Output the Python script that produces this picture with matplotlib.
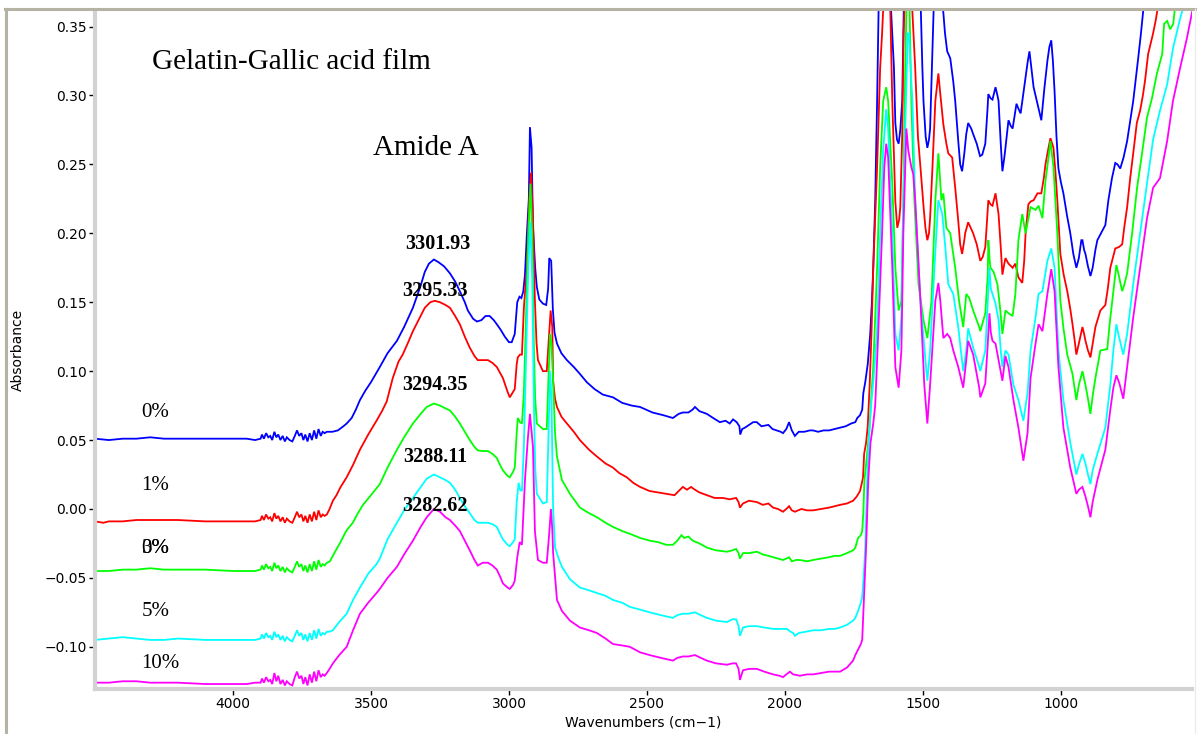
import matplotlib
matplotlib.use("Agg")
import matplotlib.pyplot as plt
from matplotlib.lines import Line2D
from matplotlib.ticker import MultipleLocator, FixedLocator

# ---------------- data (wavenumber cm-1, absorbance) ----------------
spec_0 = [
    (4500,0.051),(4450,0.050),(4400,0.051),(4350,0.051),(4300,0.052),(4250,0.051),(4200,0.051),(4100,0.051),
    (4000,0.051),(3950,0.051),(3920,0.050),(3900,0.051),
    (3895,0.054),(3888,0.051),(3880,0.055),(3872,0.052),(3865,0.053),(3858,0.050),(3850,0.056),(3843,0.052),
    (3836,0.054),(3828,0.050),(3820,0.053),(3812,0.049),(3805,0.052),(3795,0.050),(3785,0.049),(3776,0.053),
    (3768,0.057),(3760,0.053),(3752,0.055),(3745,0.050),(3738,0.054),(3730,0.049),(3722,0.055),(3714,0.050),
    (3706,0.057),(3698,0.051),(3690,0.058),(3682,0.053),(3675,0.056),(3668,0.055),(3660,0.056),
    (3640,0.056),(3620,0.057),(3600,0.060),(3588,0.062),(3570,0.066),(3555,0.072),(3540,0.079),(3520,0.086),
    (3500,0.092),(3468,0.103),(3440,0.113),(3406,0.122),(3380,0.132),(3348,0.146),(3320,0.162),(3305,0.172),
    (3290,0.178),(3272,0.181),(3255,0.179),(3235,0.176),(3214,0.171),(3195,0.165),(3178,0.158),(3160,0.150),
    (3149,0.144),(3130,0.138),(3116,0.136),(3100,0.137),(3085,0.140),(3070,0.140),(3055,0.137),(3044,0.134),
    (3030,0.130),(3015,0.125),(3000,0.121),(2990,0.121),(2979,0.127),(2970,0.150),(2962,0.154),(2955,0.153),
    (2948,0.158),(2942,0.170),(2935,0.200),(2928,0.225),(2924,0.277),(2918,0.262),(2913,0.205),(2905,0.175),
    (2899,0.161),(2890,0.152),(2877,0.149),(2865,0.148),(2858,0.160),(2854,0.182),(2847,0.180),(2841,0.145),
    (2835,0.128),(2826,0.120),(2810,0.113),(2790,0.108),(2765,0.103),(2743,0.098),(2718,0.092),(2690,0.087),
    (2660,0.083),(2623,0.081),(2590,0.077),(2555,0.075),(2525,0.074),(2480,0.070),(2440,0.068),(2406,0.066),
    (2385,0.069),(2370,0.070),(2350,0.070),(2335,0.072),(2326,0.074),(2310,0.071),(2283,0.069),(2260,0.066),
    (2236,0.063),(2215,0.064),(2200,0.062),(2188,0.065),(2175,0.063),(2165,0.060),(2162,0.054),(2155,0.058),
    (2145,0.059),(2130,0.061),(2115,0.063),(2102,0.063),(2085,0.060),(2060,0.061),(2045,0.058),(2030,0.057),
    (2015,0.056),(2007,0.055),(1995,0.058),(1985,0.063),(1975,0.057),(1964,0.053),(1950,0.056),(1930,0.056),
    (1910,0.057),(1898,0.057),(1880,0.056),(1860,0.057),(1840,0.057),(1820,0.058),(1800,0.059),(1780,0.060),
    (1760,0.062),(1745,0.063),(1738,0.066),(1728,0.068),(1720,0.072),(1716,0.084),(1709,0.092),(1700,0.105),
    (1691,0.127),(1685,0.150),(1680,0.175),(1673,0.223),(1666,0.296),(1660,0.370),(1645,0.400),(1620,0.380),
    (1605,0.320),(1600,0.280),(1594,0.268),(1588,0.265),(1582,0.275),(1575,0.296),(1568,0.380),(1540,0.420),
    (1510,0.380),(1502,0.320),(1498,0.296),(1490,0.270),(1484,0.262),(1478,0.268),(1474,0.276),(1466,0.330),
    (1460,0.370),(1445,0.390),(1430,0.370),(1420,0.345),(1412,0.332),(1401,0.327),(1390,0.310),(1383,0.296),
    (1372,0.267),(1365,0.250),(1358,0.245),(1350,0.258),(1343,0.272),(1336,0.280),(1325,0.276),(1318,0.272),
    (1305,0.265),(1293,0.256),(1285,0.257),(1274,0.265),(1266,0.290),(1263,0.301),(1255,0.298),(1248,0.297),
    (1242,0.302),(1237,0.306),(1230,0.300),(1226,0.296),(1218,0.265),(1212,0.245),(1205,0.255),(1201,0.262),
    (1190,0.282),(1182,0.278),(1175,0.276),(1168,0.285),(1161,0.294),(1153,0.290),(1146,0.287),(1137,0.300),
    (1128,0.313),(1120,0.325),(1114,0.332),(1106,0.318),(1099,0.306),(1085,0.294),(1078,0.288),(1071,0.282),
    (1060,0.305),(1049,0.325),(1042,0.335),(1035,0.340),(1029,0.325),(1023,0.303),(1016,0.270),(1009,0.247),
    (1000,0.237),(991,0.229),(978,0.213),(966,0.200),(955,0.185),(944,0.175),(935,0.182),(926,0.195),
    (922,0.195),(916,0.188),(911,0.185),(902,0.176),(893,0.169),(885,0.175),(875,0.188),(868,0.195),
    (855,0.200),(839,0.206),(828,0.224),(815,0.240),(803,0.251),(795,0.250),(785,0.247),(773,0.255),
    (760,0.267),(750,0.280),(738,0.296),(728,0.313),(720,0.327),(710,0.345),(700,0.365),(690,0.385),
]

spec_1 = [
    (4500,-0.009),(4470,-0.010),(4450,-0.009),(4400,-0.009),(4350,-0.008),(4300,-0.008),(4250,-0.008),(4200,-0.008),
    (4100,-0.009),(4000,-0.009),(3950,-0.009),(3920,-0.009),(3900,-0.008),
    (3895,-0.005),(3888,-0.008),(3880,-0.004),(3872,-0.007),(3865,-0.006),(3858,-0.009),(3850,-0.003),(3843,-0.007),
    (3836,-0.005),(3828,-0.009),(3820,-0.006),(3812,-0.010),(3805,-0.007),(3795,-0.009),(3785,-0.010),(3776,-0.006),
    (3768,-0.002),(3760,-0.006),(3752,-0.004),(3745,-0.009),(3738,-0.005),(3730,-0.010),(3722,-0.004),(3714,-0.009),
    (3706,-0.002),(3698,-0.008),(3690,-0.001),(3682,-0.006),(3675,-0.004),(3668,-0.005),
    (3660,-0.004),(3650,0.000),(3638,0.006),(3625,0.010),(3610,0.016),(3588,0.023),(3565,0.032),(3540,0.043),
    (3510,0.054),(3480,0.064),(3460,0.071),(3443,0.078),(3421,0.095),(3400,0.107),(3385,0.112),(3365,0.121),
    (3348,0.129),(3325,0.138),(3305,0.146),(3285,0.150),(3269,0.151),(3250,0.150),(3230,0.148),(3214,0.146),
    (3195,0.140),(3178,0.134),(3160,0.125),(3142,0.117),(3125,0.111),(3113,0.108),(3095,0.108),(3076,0.108),
    (3060,0.106),(3044,0.103),(3030,0.098),(3022,0.095),(3005,0.085),(2997,0.081),(2985,0.085),(2979,0.087),
    (2972,0.105),(2968,0.110),(2960,0.112),(2953,0.112),(2946,0.146),(2935,0.175),(2927,0.224),(2920,0.244),
    (2913,0.211),(2906,0.151),(2900,0.120),(2895,0.108),(2877,0.100),(2863,0.100),(2855,0.125),(2849,0.144),
    (2843,0.132),(2840,0.093),(2833,0.080),(2826,0.074),(2810,0.067),(2790,0.062),(2765,0.056),(2743,0.050),
    (2710,0.043),(2681,0.038),(2650,0.033),(2623,0.030),(2600,0.026),(2573,0.023),(2550,0.019),(2525,0.016),
    (2490,0.013),(2460,0.012),(2428,0.011),(2400,0.010),(2385,0.013),(2370,0.016),(2355,0.014),(2340,0.016),
    (2334,0.015),(2310,0.012),(2283,0.010),(2255,0.008),(2225,0.008),(2200,0.007),(2177,0.008),(2168,0.005),
    (2163,0.001),(2152,0.004),(2130,0.006),(2102,0.005),(2080,0.003),(2060,0.004),(2043,0.001),(2025,0.000),
    (2007,-0.002),(1995,0.000),(1985,0.002),(1975,-0.001),(1964,-0.002),(1940,0.000),(1920,-0.001),(1898,-0.001),
    (1870,0.000),(1840,0.001),(1820,0.002),(1800,0.003),(1775,0.004),(1753,0.006),(1740,0.009),(1728,0.013),
    (1720,0.020),(1717,0.023),(1713,0.040),(1706,0.048),(1700,0.060),(1693,0.090),(1686,0.130),(1680,0.175),
    (1666,0.248),(1655,0.320),(1648,0.345),(1640,0.380),(1625,0.380),(1618,0.360),(1611,0.296),(1600,0.223),
    (1593,0.204),(1586,0.210),(1582,0.219),(1575,0.272),(1570,0.345),(1560,0.400),(1545,0.380),(1538,0.360),
    (1528,0.320),(1518,0.270),(1509,0.248),(1498,0.220),(1491,0.204),(1484,0.195),(1478,0.200),(1474,0.211),
    (1465,0.250),(1455,0.296),(1444,0.316),(1437,0.301),(1426,0.279),(1415,0.265),(1408,0.258),(1394,0.255),
    (1383,0.233),(1372,0.209),(1365,0.192),(1358,0.185),(1350,0.195),(1347,0.200),(1336,0.208),(1325,0.203),
    (1318,0.200),(1305,0.192),(1292,0.180),(1283,0.183),(1274,0.190),(1266,0.215),(1263,0.224),(1255,0.221),
    (1248,0.220),(1237,0.229),(1226,0.214),(1218,0.190),(1212,0.170),(1205,0.178),(1201,0.182),(1190,0.178),
    (1175,0.175),(1165,0.178),(1154,0.168),(1140,0.164),(1133,0.180),(1128,0.200),(1118,0.221),(1110,0.223),
    (1099,0.224),(1085,0.229),(1071,0.229),(1062,0.240),(1056,0.250),(1045,0.262),(1038,0.269),(1027,0.262),
    (1020,0.245),(1013,0.224),(1002,0.185),(990,0.170),(977,0.158),(966,0.145),(958,0.134),(950,0.122),
    (944,0.112),(935,0.120),(922,0.132),(916,0.127),(911,0.122),(902,0.115),(893,0.110),(885,0.120),
    (875,0.132),(857,0.144),(839,0.148),(830,0.160),(821,0.175),(803,0.189),(790,0.190),(778,0.192),
    (770,0.205),(760,0.219),(749,0.240),(738,0.258),(725,0.280),(713,0.289),(703,0.300),(695,0.311),
    (684,0.330),(666,0.345),(656,0.355),(648,0.365),(640,0.375),
]

spec_3 = [
    (4500,-0.045),(4450,-0.045),(4400,-0.044),(4350,-0.044),(4300,-0.043),(4250,-0.044),(4200,-0.044),(4100,-0.044),
    (4000,-0.045),(3950,-0.045),(3920,-0.045),(3900,-0.044),
    (3895,-0.041),(3888,-0.044),(3880,-0.040),(3872,-0.043),(3865,-0.042),(3858,-0.045),(3850,-0.039),(3843,-0.043),
    (3836,-0.041),(3828,-0.045),(3820,-0.042),(3812,-0.046),(3805,-0.043),(3795,-0.045),(3785,-0.046),(3776,-0.042),
    (3768,-0.038),(3760,-0.042),(3752,-0.040),(3745,-0.045),(3738,-0.041),(3730,-0.046),(3722,-0.040),(3714,-0.045),
    (3706,-0.038),(3698,-0.044),(3690,-0.037),(3682,-0.042),(3675,-0.040),(3668,-0.041),(3660,-0.039),
    (3649,-0.038),(3630,-0.031),(3613,-0.025),(3590,-0.016),(3566,-0.010),(3550,-0.004),(3529,0.003),(3500,0.010),
    (3468,0.018),(3440,0.030),(3406,0.043),(3380,0.052),(3348,0.062),(3320,0.069),(3298,0.074),(3272,0.0765),
    (3250,0.075),(3230,0.073),(3214,0.0715),(3195,0.067),(3178,0.062),(3160,0.056),(3142,0.050),(3125,0.045),
    (3113,0.0425),(3095,0.042),(3076,0.042),(3060,0.040),(3044,0.037),(3030,0.031),(3022,0.028),(3005,0.024),
    (2997,0.023),(2985,0.027),(2979,0.030),(2972,0.055),(2968,0.066),(2960,0.063),(2953,0.062),(2946,0.084),
    (2938,0.140),(2930,0.200),(2922,0.236),(2916,0.200),(2910,0.120),(2905,0.080),(2899,0.062),(2877,0.058),
    (2863,0.058),(2856,0.100),(2851,0.127),(2846,0.120),(2840,0.093),(2833,0.055),(2826,0.038),(2808,0.021),
    (2779,0.011),(2743,0.001),(2710,-0.003),(2681,-0.006),(2650,-0.010),(2623,-0.013),(2590,-0.016),(2562,-0.018),
    (2525,-0.021),(2490,-0.023),(2460,-0.024),(2430,-0.026),(2406,-0.026),(2390,-0.023),(2375,-0.019),(2365,-0.021),
    (2350,-0.020),(2334,-0.023),(2310,-0.025),(2283,-0.028),(2250,-0.030),(2210,-0.031),(2190,-0.030),(2177,-0.029),
    (2168,-0.032),(2163,-0.036),(2152,-0.032),(2130,-0.032),(2102,-0.031),(2080,-0.033),(2060,-0.034),(2043,-0.035),
    (2025,-0.036),(2007,-0.037),(1995,-0.036),(1985,-0.035),(1975,-0.038),(1960,-0.037),(1946,-0.037),(1920,-0.038),
    (1898,-0.037),(1870,-0.036),(1840,-0.035),(1820,-0.034),(1800,-0.034),(1775,-0.032),(1753,-0.030),(1745,-0.028),
    (1735,-0.021),(1725,-0.019),(1720,-0.016),(1716,-0.003),(1712,0.021),(1706,0.032),(1700,0.045),(1693,0.060),
    (1686,0.085),(1680,0.103),(1673,0.140),(1666,0.175),(1655,0.248),(1644,0.296),(1633,0.306),(1626,0.296),
    (1611,0.236),(1600,0.175),(1588,0.144),(1578,0.151),(1571,0.224),(1564,0.320),(1558,0.380),(1550,0.380),
    (1542,0.296),(1531,0.224),(1516,0.163),(1498,0.137),(1484,0.124),(1469,0.151),(1455,0.224),(1444,0.258),
    (1433,0.224),(1426,0.229),(1415,0.204),(1401,0.200),(1383,0.175),(1369,0.151),(1354,0.132),(1343,0.156),
    (1332,0.153),(1318,0.144),(1296,0.132),(1292,0.129),(1274,0.142),(1265,0.170),(1263,0.195),(1258,0.180),
    (1255,0.175),(1244,0.172),(1230,0.163),(1220,0.145),(1212,0.127),(1201,0.144),(1190,0.142),(1175,0.140),
    (1165,0.156),(1154,0.195),(1140,0.214),(1128,0.200),(1110,0.219),(1092,0.217),(1081,0.220),(1067,0.211),
    (1056,0.238),(1045,0.255),(1038,0.267),(1027,0.248),(1013,0.200),(1002,0.151),(990,0.130),(977,0.112),
    (958,0.098),(944,0.079),(935,0.090),(922,0.100),(911,0.090),(902,0.080),(893,0.069),(885,0.082),
    (875,0.095),(857,0.115),(832,0.116),(823,0.135),(814,0.151),(799,0.177),(792,0.171),(778,0.158),
    (770,0.163),(760,0.171),(742,0.200),(724,0.233),(706,0.258),(688,0.284),(670,0.298),(652,0.316),
    (633,0.330),(626,0.352),(615,0.354),(604,0.348),(593,0.352),(586,0.365),(575,0.380),
]

spec_5 = [
    (4500,-0.095),(4450,-0.094),(4400,-0.093),(4350,-0.094),(4300,-0.095),(4250,-0.095),(4200,-0.094),(4100,-0.095),
    (4000,-0.095),(3950,-0.095),(3920,-0.095),(3900,-0.094),
    (3895,-0.091),(3888,-0.094),(3880,-0.090),(3872,-0.093),(3865,-0.092),(3858,-0.095),(3850,-0.089),(3843,-0.093),
    (3836,-0.091),(3828,-0.095),(3820,-0.092),(3812,-0.096),(3805,-0.093),(3795,-0.095),(3785,-0.096),(3776,-0.092),
    (3768,-0.088),(3760,-0.092),(3752,-0.090),(3745,-0.095),(3738,-0.091),(3730,-0.096),(3722,-0.090),(3714,-0.095),
    (3706,-0.088),(3698,-0.094),(3690,-0.087),(3682,-0.092),(3675,-0.090),(3668,-0.091),(3660,-0.089),
    (3650,-0.089),(3638,-0.088),(3615,-0.082),(3588,-0.076),(3565,-0.066),(3540,-0.057),(3510,-0.047),(3480,-0.040),
    (3468,-0.036),(3440,-0.022),(3406,-0.010),(3380,-0.001),(3348,0.008),(3320,0.016),(3298,0.022),(3272,0.025),
    (3250,0.023),(3230,0.021),(3214,0.019),(3195,0.014),(3178,0.008),(3160,0.002),(3142,-0.003),(3125,-0.008),
    (3113,-0.010),(3095,-0.010),(3076,-0.010),(3060,-0.011),(3044,-0.013),(3030,-0.019),(3022,-0.022),(3005,-0.026),
    (2997,-0.027),(2985,-0.024),(2979,-0.022),(2972,0.005),(2965,0.019),(2960,0.014),(2953,0.013),(2946,0.045),
    (2938,0.110),(2930,0.175),(2922,0.208),(2916,0.170),(2910,0.080),(2905,0.030),(2899,0.011),(2877,0.004),
    (2863,0.005),(2856,0.060),(2851,0.100),(2846,0.080),(2840,0.000),(2833,-0.028),(2820,-0.036),(2808,-0.042),
    (2779,-0.051),(2743,-0.057),(2710,-0.059),(2681,-0.061),(2650,-0.063),(2623,-0.066),(2590,-0.068),(2562,-0.071),
    (2525,-0.073),(2490,-0.075),(2450,-0.077),(2406,-0.079),(2390,-0.077),(2370,-0.076),(2350,-0.076),(2326,-0.075),
    (2305,-0.077),(2283,-0.079),(2250,-0.081),(2210,-0.082),(2190,-0.080),(2177,-0.080),(2168,-0.085),(2163,-0.092),
    (2152,-0.086),(2130,-0.085),(2102,-0.085),(2075,-0.086),(2043,-0.087),(2020,-0.087),(1993,-0.087),(1980,-0.089),
    (1970,-0.090),(1964,-0.092),(1950,-0.090),(1925,-0.089),(1898,-0.088),(1870,-0.088),(1840,-0.087),(1820,-0.087),
    (1800,-0.086),(1775,-0.084),(1753,-0.081),(1745,-0.079),(1735,-0.074),(1725,-0.068),(1720,-0.064),(1712,-0.040),
    (1709,-0.028),(1702,0.021),(1696,0.050),(1688,0.075),(1680,0.092),(1673,0.110),(1666,0.130),(1655,0.200),
    (1644,0.260),(1633,0.290),(1626,0.276),(1611,0.200),(1600,0.127),(1588,0.115),(1578,0.139),(1571,0.224),
    (1560,0.308),(1555,0.345),(1550,0.345),(1545,0.320),(1538,0.296),(1528,0.224),(1509,0.151),(1491,0.108),
    (1484,0.093),(1474,0.115),(1455,0.187),(1444,0.224),(1430,0.214),(1419,0.190),(1408,0.163),(1390,0.156),
    (1372,0.132),(1354,0.100),(1343,0.115),(1336,0.131),(1318,0.117),(1296,0.103),(1292,0.100),(1274,0.115),
    (1265,0.150),(1259,0.175),(1254,0.160),(1248,0.156),(1237,0.149),(1226,0.137),(1218,0.115),(1212,0.103),
    (1201,0.115),(1190,0.112),(1172,0.090),(1154,0.079),(1136,0.064),(1121,0.084),(1110,0.115),(1092,0.139),
    (1081,0.156),(1067,0.158),(1049,0.180),(1035,0.189),(1023,0.175),(1009,0.115),(991,0.079),(966,0.048),
    (944,0.025),(935,0.032),(922,0.040),(911,0.033),(902,0.025),(893,0.018),(885,0.028),(868,0.040),
    (839,0.059),(821,0.090),(810,0.115),(799,0.134),(792,0.127),(774,0.112),(760,0.127),(738,0.163),
    (713,0.200),(688,0.236),(666,0.268),(641,0.289),(615,0.308),(594,0.334),(568,0.356),(555,0.365),(545,0.380),
]

spec_10 = [
    (4500,-0.126),(4450,-0.126),(4400,-0.125),(4350,-0.125),(4300,-0.126),(4250,-0.126),(4200,-0.126),(4100,-0.127),
    (4000,-0.127),(3950,-0.127),(3920,-0.126),(3900,-0.126),
    (3895,-0.123),(3888,-0.126),(3880,-0.122),(3872,-0.125),(3865,-0.124),(3858,-0.127),(3850,-0.119),(3843,-0.125),
    (3836,-0.121),(3828,-0.127),(3820,-0.124),(3812,-0.128),(3805,-0.125),(3795,-0.127),(3785,-0.128),(3776,-0.122),
    (3768,-0.118),(3760,-0.123),(3752,-0.121),(3745,-0.127),(3738,-0.122),(3730,-0.128),(3722,-0.120),(3714,-0.126),
    (3706,-0.118),(3698,-0.125),(3690,-0.117),(3682,-0.122),(3675,-0.120),(3668,-0.121),(3660,-0.119),
    (3650,-0.116),(3638,-0.112),(3615,-0.106),(3588,-0.100),(3565,-0.088),(3540,-0.076),(3510,-0.068),(3480,-0.061),
    (3468,-0.058),(3440,-0.050),(3406,-0.042),(3380,-0.033),(3348,-0.023),(3320,-0.013),(3298,-0.006),(3272,0.000),
    (3250,-0.002),(3230,-0.006),(3214,-0.008),(3195,-0.012),(3178,-0.016),(3160,-0.023),(3142,-0.030),(3125,-0.037),
    (3113,-0.041),(3095,-0.039),(3076,-0.039),(3060,-0.041),(3044,-0.044),(3030,-0.050),(3022,-0.054),(3005,-0.057),
    (2997,-0.058),(2985,-0.055),(2979,-0.052),(2970,-0.035),(2961,-0.024),(2953,-0.026),(2942,0.021),(2932,0.050),
    (2924,0.069),(2913,0.045),(2906,-0.016),(2895,-0.037),(2877,-0.039),(2863,-0.039),(2855,-0.020),(2848,0.000),
    (2843,-0.015),(2840,-0.032),(2826,-0.066),(2808,-0.074),(2779,-0.081),(2743,-0.086),(2710,-0.088),(2681,-0.090),
    (2650,-0.094),(2623,-0.098),(2590,-0.099),(2562,-0.100),(2525,-0.104),(2490,-0.106),(2450,-0.108),(2406,-0.110),
    (2390,-0.108),(2370,-0.107),(2350,-0.107),(2326,-0.106),(2305,-0.108),(2283,-0.110),(2250,-0.112),(2210,-0.113),
    (2190,-0.112),(2177,-0.112),(2168,-0.116),(2163,-0.124),(2152,-0.117),(2130,-0.116),(2102,-0.116),(2075,-0.118),
    (2043,-0.120),(2020,-0.121),(2007,-0.122),(1995,-0.120),(1982,-0.118),(1970,-0.120),(1946,-0.121),(1920,-0.120),
    (1898,-0.120),(1870,-0.119),(1840,-0.118),(1820,-0.118),(1800,-0.118),(1775,-0.115),(1753,-0.110),(1745,-0.106),
    (1735,-0.102),(1725,-0.098),(1720,-0.095),(1716,-0.076),(1706,-0.028),(1698,0.021),(1690,0.048),(1680,0.062),
    (1673,0.075),(1662,0.127),(1648,0.200),(1640,0.248),(1633,0.265),(1626,0.255),(1611,0.175),(1600,0.103),
    (1588,0.088),(1578,0.115),(1571,0.200),(1560,0.276),(1553,0.260),(1542,0.248),(1535,0.243),(1528,0.224),
    (1509,0.151),(1495,0.090),(1484,0.062),(1474,0.090),(1455,0.151),(1444,0.164),(1437,0.151),(1426,0.124),
    (1412,0.127),(1401,0.124),(1390,0.115),(1372,0.103),(1354,0.088),(1343,0.108),(1336,0.122),(1318,0.112),
    (1296,0.088),(1292,0.081),(1274,0.091),(1265,0.120),(1259,0.142),(1254,0.128),(1248,0.122),(1237,0.120),
    (1226,0.108),(1212,0.093),(1201,0.111),(1190,0.103),(1172,0.079),(1154,0.059),(1136,0.035),(1121,0.055),
    (1110,0.095),(1092,0.120),(1081,0.134),(1067,0.129),(1049,0.156),(1035,0.174),(1023,0.158),(1009,0.103),
    (991,0.059),(966,0.030),(944,0.011),(935,0.014),(922,0.016),(911,0.009),(902,0.002),(893,-0.006),
    (885,0.005),(868,0.021),(839,0.043),(821,0.072),(810,0.088),(799,0.097),(788,0.091),(774,0.080),
    (760,0.103),(738,0.139),(713,0.175),(688,0.211),(666,0.233),(641,0.240),(615,0.267),(594,0.296),
    (568,0.320),(543,0.342),(525,0.360),(515,0.370),
]

series = [spec_0, spec_1, spec_3, spec_5, spec_10]
series_colors = ["#0000ff", "#ff0000", "#00ff00", "#00ffff", "#ff00ff"]

# labels
title_text = "Gelatin-Gallic acid film"
band_text = "Amide A"
peak_labels = ["3301.93", "3295.33", "3294.35", "3288.11", "3282.62"]
peak_label_pos = [(3259, 0.1925), (3268, 0.1585), (3268, 0.0899), (3268, 0.0375), (3268, 0.0020)]
pct_labels = ["0%", "1%", "3%", "0%", "5%", "10%"]
pct_label_pos = [(4331, 0.0700), (4331, 0.0172), (4331, -0.0285), (4331, -0.0285), (4331, -0.0741), (4331, -0.1118)]

x_ticks = [4000, 3500, 3000, 2500, 2000, 1500, 1000]
y_ticks = [-0.10, -0.05, 0.00, 0.05, 0.10, 0.15, 0.20, 0.25, 0.30, 0.35]

# ---------------- figure ----------------
W, H = 1198, 734
fig = plt.figure(figsize=(W / 100, H / 100), dpi=100)
fig.patch.set_facecolor("white")

ax = fig.add_axes([95 / W, 1 - 689 / H, (1192 - 95) / W, (689 - 10) / H])
ax.set_facecolor("white")

for spec, col in zip(series, series_colors):
    xs = [p[0] for p in spec]
    ys = [p[1] for p in spec]
    ax.plot(xs, ys, color=col, lw=1.3, solid_joinstyle="miter")

ax.set_xlim(4500, 525)
ax.set_ylim(-0.1306, 0.362)

ax.xaxis.set_major_locator(FixedLocator(x_ticks))
ax.xaxis.set_minor_locator(MultipleLocator(100))
ax.yaxis.set_major_locator(FixedLocator(y_ticks))
ax.yaxis.set_minor_locator(MultipleLocator(0.01))
ax.set_yticklabels([f"{v:.2f}".replace("-", "\u2212") for v in y_ticks])
ax.set_xticklabels([str(v) for v in x_ticks])

for s in ["top", "right"]:
    ax.spines[s].set_visible(False)
for s in ["left", "bottom"]:
    ax.spines[s].set_color("#d2d2d2")
    ax.spines[s].set_linewidth(3.0)

ax.tick_params(axis="both", which="major", direction="out", length=4, width=1.0,
               color="black", labelsize=10, pad=2)
ax.tick_params(axis="both", which="minor", direction="out", length=1.6, width=1.6, color="black")

ax.set_xlabel("Wavenumbers (cm\u22121)", fontsize=10, labelpad=3)
ax.set_ylabel("Absorbance", fontsize=10, labelpad=18)
ax.yaxis.set_label_coords(-70 / (1192 - 95), 0.5)

serif = "Liberation Serif"
ax.text(4295, 0.3244, title_text, fontsize=21, family=serif, ha="left", va="center")
ax.text(3493, 0.262, band_text, fontsize=21, family=serif, ha="left", va="center")
for txt, (px, py) in zip(peak_labels, peak_label_pos):
    ax.text(px, py, txt, fontsize=14.5, family=serif, fontweight="bold", ha="center", va="center")
for txt, (px, py) in zip(pct_labels, pct_label_pos):
    ax.text(px, py, txt, fontsize=15, family=serif, ha="left", va="center")

# window-style frame lines (top and left)
frame_col = "#b6b2a4"
fig.add_artist(Line2D([5 / W, 1195 / W], [1 - 8.5 / H, 1 - 8.5 / H], color=frame_col, lw=2.2,
                      transform=fig.transFigure))
fig.add_artist(Line2D([5.5 / W, 5.5 / W], [0, 1 - 8.5 / H], color=frame_col, lw=2.2,
                      transform=fig.transFigure))
fig.add_artist(Line2D([1195 / W, 1195 / W], [0, 1 - 8.5 / H], color="#ececec", lw=1.0,
                      transform=fig.transFigure))

fig.savefig("out.png", dpi=100, facecolor="white")
